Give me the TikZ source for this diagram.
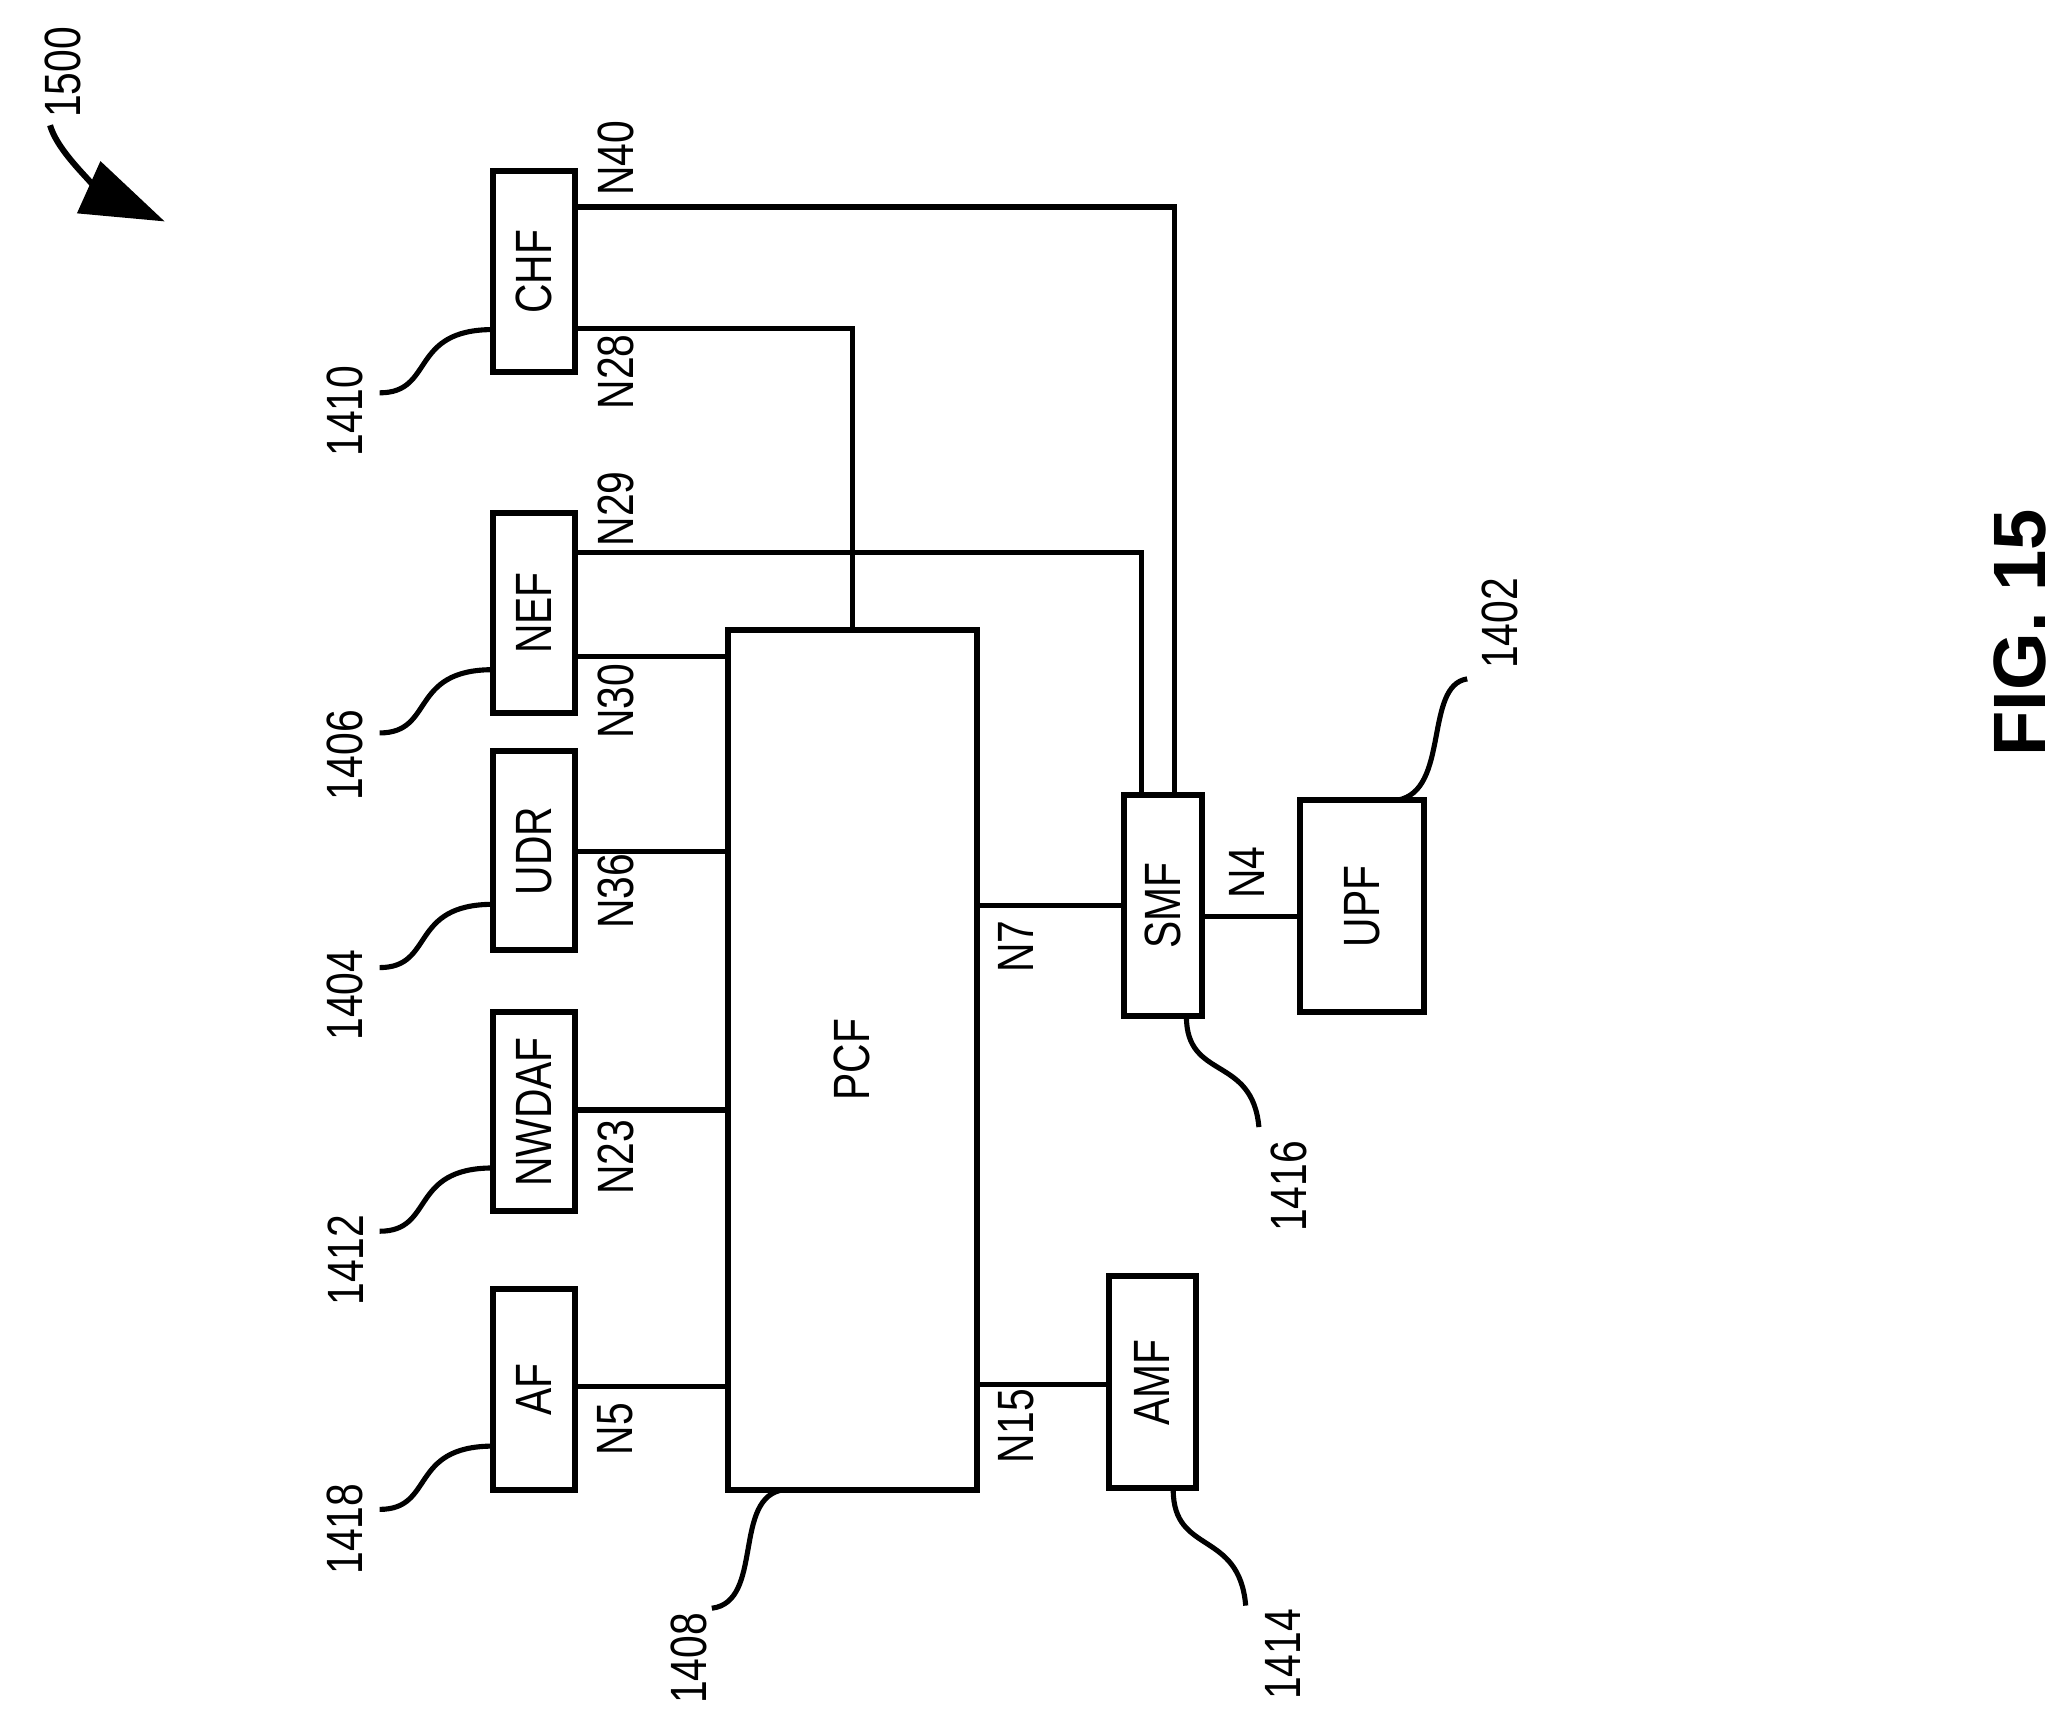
\documentclass[tikz,border=0pt]{standalone}
\usepackage{fontspec}
\setmainfont{Liberation Sans}
\usetikzlibrary{arrows.meta}
\begin{document}
\begin{tikzpicture}[x=0.01cm,y=-0.01cm,line width=1.1pt,
 box/.style={draw,line width=1.3pt,inner sep=0},
 lbl/.style={rotate=90,font=\fontsize{11}{12}\selectfont,xscale=0.8},
 lead/.style={line width=1.1pt}]
\useasboundingbox (0,0) rectangle (1568,1309);
\newcommand\bx[6]{\node[box,minimum width=#4*0.01cm-#2*0.01cm,minimum height=#5*0.01cm-#3*0.01cm] (#1) at ({(#2+#4)/2},{(#3+#5)/2}) {};\node[lbl] at (#1) {#6};}
\bx{chf}{374}{130}{436}{282}{CHF}
\bx{nef}{374}{389}{436}{541}{NEF}
\bx{udr}{374}{570}{436}{721}{UDR}
\bx{nwdaf}{374}{768}{436}{919}{NWDAF}
\bx{af}{374}{978}{436}{1130}{AF}
\bx{pcf}{552}{478}{741}{1130}{PCF}
\bx{smf}{853}{603}{912}{771}{SMF}
\bx{upf}{986}{607}{1080}{768}{UPF}
\bx{amf}{841}{968}{907}{1129}{AMF}
\coordinate (a1) at (436,157); \coordinate (a2) at (891,157); \coordinate (a3) at (891,603);
\draw (a1)--(a2)--(a3);
\coordinate (b1) at (436,249); \coordinate (b2) at (647,249); \coordinate (b3) at (647,478);
\draw (b1)--(b2)--(b3);
\coordinate (c1) at (436,419); \coordinate (c2) at (866,419); \coordinate (c3) at (866,603);
\draw (c1)--(c2)--(c3);
\draw (436,498)--(552,498);
\draw (436,646)--(552,646);
\draw (436,842)--(552,842);
\draw (436,1052)--(552,1052);
\draw (741,687)--(853,687);
\draw (912,695)--(986,695);
\draw (741,1050)--(841,1050);
\node[lbl] at (467,120) {N40};
\node[lbl] at (467,282) {N28};
\node[lbl] at (467,386) {N29};
\node[lbl] at (467,532) {N30};
\node[lbl] at (467,676) {N36};
\node[lbl] at (467,878) {N23};
\node[lbl] at (467,1084) {N5};
\node[lbl] at (771,718) {N7};
\node[lbl] at (771,1082) {N15};
\node[lbl] at (946,662) {N4};
\node[lbl] at (262,312) {1410};
\node[lbl] at (262,573) {1406};
\node[lbl] at (262,755) {1404};
\node[lbl] at (262,956) {1412};
\node[lbl] at (262,1160) {1418};
\node[lbl] at (523,1258) {1408};
\node[lbl] at (973,1255) {1414};
\node[lbl] at (978,900) {1416};
\node[lbl] at (1138,473) {1402};
\node[lbl] at (48,55) {1500};
\foreach \y in {250,508,686,886,1097}
 \draw[lead] (288,\y+48) .. controls (330,\y+48) and (310,\y) .. (374,\y);
\draw[lead] (540,1220) .. controls (580,1215) and (555,1135) .. (595,1130);
\draw[lead] (945,1218) .. controls (940,1160) and (890,1180) .. (890,1130);
\draw[lead] (955,855) .. controls (950,800) and (900,820) .. (900,771);
\draw[lead] (1113,515) .. controls (1080,520) and (1100,600) .. (1060,607);
\draw[line width=1.3pt,-{Triangle[length=18pt,width=12pt]}] (38,95) .. controls (45,120) and (85,150) .. (125,168);
\node[rotate=90,font=\fontsize{16}{18}\selectfont\bfseries] at (1532,480) {FIG. 15};
\end{tikzpicture}
\end{document}
